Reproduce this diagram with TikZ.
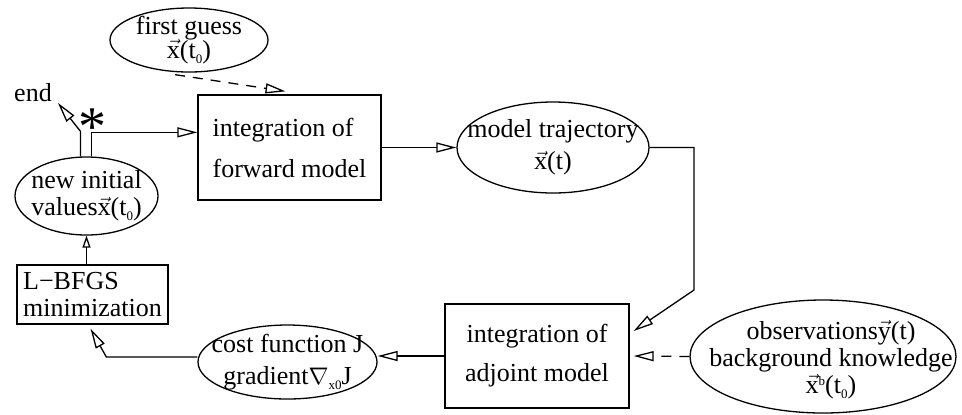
\documentclass[tikz,border=0pt]{standalone}
\usepackage{fontspec}
\setmainfont{Liberation Serif}
\usetikzlibrary{arrows.meta, shapes.geometric, calc}

\newcommand{\vx}{\(\vec{\mbox{x}}\)}
\newcommand{\sub}[1]{\raisebox{-2.5pt}{\fontsize{6.5}{6.5}\selectfont #1}}

\begin{document}
\begin{tikzpicture}[x=0.5pt,y=-0.5pt,
    every node/.style={font=\fontsize{13}{13.5}\selectfont, inner sep=0pt},
    ell/.style 2 args={draw, ellipse, line width=0.65pt, minimum width=#1, minimum height=#2},
    box/.style 2 args={draw, rectangle, line width=0.65pt, minimum width=#1, minimum height=#2},
    arr/.style={-{Triangle[open,length=10pt,width=5pt]}, line width=0.65pt},
    arrsmall/.style={-{Triangle[open,length=6pt,width=4pt]}, line width=0.65pt},
    dashline/.style={dash pattern=on 5pt off 4pt}]
  \useasboundingbox (0,0) rectangle (962,414);

  % boxes
  \node[box={91.5pt}{52.5pt}, align=left] (fwd) at (289.5,147.5)
       {integration of\\[7pt]forward model};
  \node[box={92pt}{52pt}, align=center] (adj) at (537,356)
       {integration of\\[6pt]adjoint model};
  \node[box={75.5pt}{29.5pt}, align=left] (lbfgs) at (92.5,294.5)
       {L−BFGS\\minimization};

  % ellipses
  \node[ell={79pt}{32pt}] (first) at (189,40) {};
  \node[align=center] (first-t) at (first) {first guess\\[-1.5pt]\vx(t\sub{0})};
  \node[ell={96pt}{45.5pt}] (traj) at (553,147.5) {};
  \node[align=center] (traj-t) at (traj) {model trajectory\\[2.5pt]\vx(t)};
  \node[ell={71.5pt}{39pt}] (newval) at (86.5,196) {};
  \node[align=center] (newval-t) at (newval) {new initial\\values\vx(t\sub{0})};
  \node[ell={89.5pt}{37pt}] (cost) at (287.5,362) {};
  \node[align=center] (cost-t) at (cost) {cost function J\\[2.5pt]gradient\(\nabla\)\sub{x0}J};
  \node[ell={133pt}{56.5pt}] (obs) at (823,356.5) {};
  \node[align=center] (obs-t) at ($(obs)+(8,3)$)
       {observations\(\vec{\mbox{y}}\)(t)\\background knowledge\\\vx\raisebox{4pt}{\fontsize{6.5}{6.5}\selectfont b}(t\sub{0})};

  % end / star
  \node (end) at (33,93) {end};
  \node[font=\fontsize{28}{28}\selectfont, anchor=base] (star) at (92,145) {*};
  \coordinate (endtip) at (58,103);
  \coordinate (bend) at (694,290);

  % connectors
  \draw[arr, dashline] ($(first.south)+(-14,2)$) -- ($(fwd.north)+(-4,-3)$);
  \draw[arr] (fwd.east) -- (traj.west);
  \draw[arr] (traj.east) -| (bend) -- ($(adj.east)+(4,-25)$);
  \draw[arr, dashline] (obs.west) -- ($(adj.east)+(4,0)$);
  \draw[arr] (adj.west) -- (adj.west -| cost.east);
  \draw[arr] ($(cost.west)+(0,-5)$) -- ++(-91,0) -- ($(lbfgs.south)+(-2,4)$);
  \draw[arrsmall] (lbfgs.north -| newval.south) -- (newval.south);
  \draw[arr] ($(newval.north)+(-6,0)$) -- ++(0,-25) -- (endtip);
  \draw[arr] ($(newval.north)+(5,0)$) -- ++(0,-24) coordinate (r1) -- (r1 -| fwd.west);
\end{tikzpicture}
\end{document}
